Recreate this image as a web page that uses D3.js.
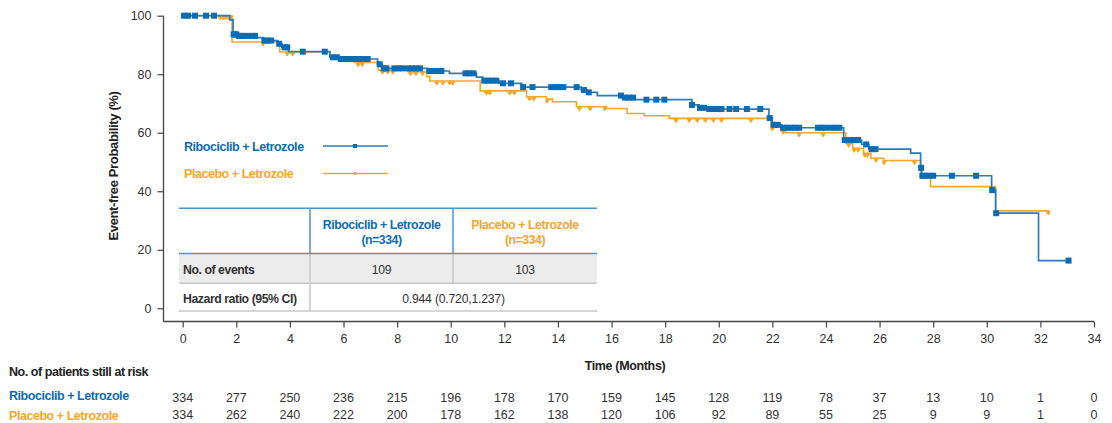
<!DOCTYPE html>
<html>
<head>
<meta charset="utf-8">
<script src="https://cdn.jsdelivr.net/npm/d3@7"></script>
<style>
  html, body { margin: 0; padding: 0; background: #fff; }
  svg { display: block; font-family: "Liberation Sans", Arial, Helvetica, sans-serif; }
</style>
</head>
<body>
<svg id="chart" width="1112" height="423"></svg>
<script>
// Kaplan-Meier step data: times in months, event-free probability in %
const ribTime = [0, 1.76, 1.88, 2.05, 2.78, 3.0, 3.55, 3.7, 3.95, 5.49, 5.86, 7.27, 7.45, 9.14, 9.95, 10.96, 11.2, 11.8, 12.65, 14.87, 15.09, 15.47, 16.4, 16.88, 19.0, 19.27, 19.53, 21.87, 22.0, 22.35, 24.66, 25.33, 25.6, 27.16, 27.53, 27.57, 30.18, 30.33, 31.93];
const ribSurv = [100, 98.6, 93.6, 93.1, 92.5, 91.5, 90.4, 89.2, 87.7, 85.8, 85.2, 83.4, 82.0, 81.1, 80.3, 79.0, 77.8, 76.9, 75.6, 74.6, 73.8, 72.7, 72.0, 71.3, 69.5, 68.5, 68.1, 65.0, 62.7, 61.7, 57.5, 56.0, 54.4, 53.0, 48.0, 45.3, 40.4, 32.5, 16.3];
const ribEnd = 33.05;
const ribCensor = [0.05, 0.2, 0.46, 0.87, 1.17, 1.9, 1.95, 2.0, 2.1, 2.2, 2.3, 2.45, 2.6, 2.7, 3.05, 3.15, 3.3, 3.6, 3.8, 3.9, 4.48, 5.3, 5.6, 5.75, 5.9, 6.05, 6.2, 6.35, 6.5, 6.7, 6.9, 7.35, 7.5, 7.6, 7.9, 8.05, 8.2, 8.4, 8.55, 8.7, 8.85, 9.2, 9.35, 9.5, 9.65, 10.55, 10.7, 10.85, 11.25, 11.4, 11.55, 11.7, 11.95, 12.25, 12.7, 13.05, 13.75, 13.9, 14.05, 14.2, 14.7, 14.97, 15.15, 16.35, 16.5, 16.65, 16.8, 17.3, 17.67, 17.97, 19.0, 19.3, 19.45, 19.65, 19.8, 19.95, 20.1, 20.4, 20.65, 21.05, 21.55, 21.9, 22.05, 22.2, 22.4, 22.55, 22.7, 22.85, 23.0, 23.7, 23.85, 24.0, 24.2, 24.35, 24.5, 24.7, 24.9, 25.05, 25.2, 25.5, 25.7, 25.85, 27.55, 27.6, 27.7, 27.85, 28.0, 28.7, 29.6, 30.2, 30.35, 33.05];

const plaTime = [0, 1.84, 3.62, 5.49, 6.4, 7.3, 8.4, 9.1, 9.22, 11.1, 12.83, 13.57, 13.8, 14.69, 15.8, 16.58, 17.22, 18.15, 21.95, 22.33, 22.5, 24.74, 25.0, 25.4, 25.68, 26.15, 27.53, 27.9, 30.33];
const plaSurv = [100, 91.0, 87.6, 85.8, 84.0, 81.4, 80.9, 79.2, 77.7, 74.3, 72.3, 71.5, 70.6, 68.9, 68.3, 66.6, 65.8, 64.9, 62.0, 60.9, 60.0, 56.4, 54.7, 53.0, 51.3, 50.5, 45.6, 41.6, 33.3];
const plaEnd = 32.3;
const plaCensor = [1.4, 1.5, 1.6, 1.7, 1.8, 3.0, 3.9, 4.1, 6.55, 6.7, 7.46, 7.65, 7.84, 8.5, 8.7, 8.95, 9.48, 9.7, 9.96, 10.07, 11.33, 11.45, 12.2, 12.38, 12.94, 13.1, 13.6, 14.8, 15.2, 15.75, 18.4, 18.9, 19.2, 19.5, 19.8, 20.1, 21.2, 22.0, 22.4, 23.0, 23.9, 24.85, 25.05, 25.2, 25.45, 25.55, 25.87, 26.17, 27.3, 27.55, 32.3];

// Axis ticks
const xTicks = d3.range(0, 35, 2);
const yTicks = [0, 20, 40, 60, 80, 100];

// Patients at risk at each x tick
const ribRisk = [334, 277, 250, 236, 215, 196, 178, 170, 159, 145, 128, 119, 78, 37, 13, 10, 1, 0];
const plaRisk = [334, 262, 240, 222, 200, 178, 162, 138, 120, 106, 92, 89, 55, 25, 9, 9, 1, 0];

// Summary table
const armNames = ["Ribociclib + Letrozole", "Placebo + Letrozole"];
const armN = ["(n=334)", "(n=334)"];
const eventCounts = ["109", "103"];
const hazardText = "0.944 (0.720,1.237)";

const BLUE = "#0c6cb5";
const BLUE_LINE = "#2a7cc0";
const ORANGE = "#f5a62b";
const DARK = "#222";
const BOLD_SIZE = 12.5;

const svg = d3.select("#chart");
svg.append("rect").attr("width", 1112).attr("height", 423).attr("fill", "#fff");

const x = d3.scaleLinear().domain([0, 34]).range([182.7, 1094]);
const y = d3.scaleLinear().domain([0, 100]).range([308.3, 15.7]);
const axisY = 321.5;   // vertical position of the time axis
const axisX = 163.5;   // horizontal position of the probability axis

// ---- Axes ----
const gy = svg.append("g").attr("transform", `translate(${axisX},0)`)
  .call(d3.axisLeft(y).tickValues(yTicks).tickSize(6).tickPadding(6).tickSizeOuter(0));
gy.select(".domain").remove();
gy.selectAll(".tick line").attr("stroke", "#444").attr("stroke-width", 1.2);
gy.selectAll(".tick text").attr("font-size", 12.5).attr("fill", "#333")
  .attr("font-family", "Liberation Sans, Arial, sans-serif");

const gx = svg.append("g").attr("transform", `translate(0,${axisY})`)
  .call(d3.axisBottom(x).tickValues(xTicks).tickSize(6).tickPadding(7).tickSizeOuter(0));
gx.select(".domain").remove();
gx.selectAll(".tick line").attr("stroke", "#444").attr("stroke-width", 1.2);
gx.selectAll(".tick text").attr("font-size", 12.5).attr("fill", "#333")
  .attr("font-family", "Liberation Sans, Arial, sans-serif");

svg.append("line").attr("x1", axisX).attr("x2", axisX).attr("y1", y(100)).attr("y2", axisY)
  .attr("stroke", "#444").attr("stroke-width", 1.3);
svg.append("line").attr("x1", axisX).attr("x2", x(34)).attr("y1", axisY).attr("y2", axisY)
  .attr("stroke", "#444").attr("stroke-width", 1.3);

svg.append("text")
  .attr("transform", `translate(118,${(y(100) + y(0)) / 2 + 4}) rotate(-90)`)
  .attr("text-anchor", "middle").attr("font-size", 13).attr("font-weight", "bold")
  .attr("letter-spacing", -0.35).attr("fill", DARK)
  .text("Event-free Probability (%)");

svg.append("text").attr("x", 625).attr("y", 370).attr("text-anchor", "middle")
  .attr("font-size", BOLD_SIZE).attr("font-weight", "bold").attr("letter-spacing", -0.35)
  .attr("fill", DARK).text("Time (Months)");

// ---- Curves ----
function stepPoints(times, surv, end) {
  const pts = times.map((t, i) => [t, surv[i]]);
  pts.push([end, surv[surv.length - 1]]);
  return pts;
}
function survAt(times, surv, t) {
  let s = surv[0];
  for (let i = 0; i < times.length; i++) { if (times[i] <= t) s = surv[i]; }
  return s;
}
const stepLine = d3.line().x(d => x(d[0])).y(d => y(d[1])).curve(d3.curveStepAfter);

const plotG = svg.append("g");

plotG.append("path").datum(stepPoints(plaTime, plaSurv, plaEnd))
  .attr("d", stepLine).attr("fill", "none").attr("stroke", ORANGE).attr("stroke-width", 1.6);

plotG.selectAll(".pcens").data(plaCensor).join("path")
  .attr("class", "pcens")
  .attr("transform", d => `translate(${x(d)},${y(survAt(plaTime, plaSurv, d))})`)
  .attr("d", "M-2,1 L2,1 L0,4 Z M0,-1 L0,4")
  .attr("fill", ORANGE).attr("stroke", ORANGE).attr("stroke-width", 1);

plotG.append("path").datum(stepPoints(ribTime, ribSurv, ribEnd))
  .attr("d", stepLine).attr("fill", "none").attr("stroke", BLUE_LINE).attr("stroke-width", 1.7);

plotG.selectAll(".rcens").data(ribCensor).join("rect")
  .attr("class", "rcens")
  .attr("x", d => x(d) - 3)
  .attr("y", d => y(survAt(ribTime, ribSurv, d)) - 3)
  .attr("width", 6).attr("height", 6).attr("fill", BLUE);

// ---- Legend ----
const legend = [
  { name: armNames[0], color: BLUE, line: BLUE_LINE, yPos: 146, marker: "square" },
  { name: armNames[1], color: ORANGE, line: ORANGE, yPos: 173.5, marker: "dot" }
];
legend.forEach(l => {
  svg.append("text").attr("x", 184).attr("y", l.yPos + 4.5).attr("font-size", BOLD_SIZE)
    .attr("font-weight", "bold").attr("letter-spacing", -0.45).attr("fill", l.color).text(l.name);
  svg.append("line").attr("x1", 323).attr("x2", 388).attr("y1", l.yPos).attr("y2", l.yPos)
    .attr("stroke", l.line).attr("stroke-width", 1.3);
  if (l.marker === "square") {
    svg.append("rect").attr("x", 353).attr("y", l.yPos - 2).attr("width", 4).attr("height", 4).attr("fill", l.color);
  } else {
    svg.append("circle").attr("cx", 355).attr("cy", l.yPos).attr("r", 1.6).attr("fill", l.color);
  }
});

// ---- Summary table ----
const tbl = { left: 179, right: 597, c1: 310, c2: 453, top: 208.3, head: 253.5, row1: 283.3, bottom: 311 };
const col1Mid = (tbl.c1 + tbl.c2) / 2;
const col2Mid = (tbl.c2 + tbl.right) / 2;

svg.append("rect").attr("x", tbl.left).attr("y", tbl.head).attr("width", tbl.right - tbl.left)
  .attr("height", tbl.row1 - tbl.head).attr("fill", "#ececec");

const hline = (yy, color) => svg.append("line").attr("x1", tbl.left).attr("x2", tbl.right)
  .attr("y1", yy).attr("y2", yy).attr("stroke", color).attr("stroke-width", 1.5);
const vline = (xx, y1, y2, color) => svg.append("line").attr("x1", xx).attr("x2", xx)
  .attr("y1", y1).attr("y2", y2).attr("stroke", color).attr("stroke-width", 1.5);

vline(tbl.c1, tbl.top, tbl.head, "#4f93cc");
vline(tbl.c2, tbl.top, tbl.head, "#4f93cc");
vline(tbl.c1, tbl.head, tbl.bottom, "#c8c8c8");
vline(tbl.c2, tbl.head, tbl.row1, "#c8c8c8");
hline(tbl.top, "#4f93cc");
hline(tbl.head, "#4f93cc");
hline(tbl.row1, "#c8c8c8");
hline(tbl.bottom, "#c8c8c8");

const cellText = (xx, yy, txt, color, anchor, bold) => svg.append("text")
  .attr("x", xx).attr("y", yy).attr("text-anchor", anchor || "middle")
  .attr("font-size", bold ? 12.3 : 12.2).attr("font-weight", bold ? "bold" : "normal")
  .attr("letter-spacing", bold ? -0.45 : -0.2).attr("fill", color).text(txt);

cellText(col1Mid, 228.5, armNames[0], BLUE, "middle", true);
cellText(col1Mid, 243.5, armN[0], BLUE, "middle", true);
cellText(col2Mid, 228.5, armNames[1], ORANGE, "middle", true);
cellText(col2Mid, 243.5, armN[1], ORANGE, "middle", true);

cellText(183, 273.5, "No. of events", "#333", "start", true);
cellText(col1Mid, 273.5, eventCounts[0], "#333", "middle", false);
cellText(col2Mid, 273.5, eventCounts[1], "#333", "middle", false);

cellText(183, 302.5, "Hazard ratio (95% CI)", "#333", "start", true);
cellText((tbl.c1 + tbl.right) / 2, 302.5, hazardText, "#333", "middle", false);

// ---- Patients at risk ----
svg.append("text").attr("x", 9).attr("y", 375.5).attr("font-size", BOLD_SIZE).attr("font-weight", "bold")
  .attr("letter-spacing", -0.45).attr("fill", DARK).text("No. of patients still at risk");
svg.append("text").attr("x", 9).attr("y", 400).attr("font-size", BOLD_SIZE).attr("font-weight", "bold")
  .attr("letter-spacing", -0.45).attr("fill", BLUE).text(armNames[0]);
svg.append("text").attr("x", 9).attr("y", 420).attr("font-size", BOLD_SIZE).attr("font-weight", "bold")
  .attr("letter-spacing", -0.45).attr("fill", ORANGE).text(armNames[1]);

svg.selectAll(".riskR").data(ribRisk).join("text").attr("class", "riskR")
  .attr("x", (d, i) => x(xTicks[i])).attr("y", 402).attr("text-anchor", "middle")
  .attr("font-size", 12.5).attr("fill", "#333").text(d => d);
svg.selectAll(".riskP").data(plaRisk).join("text").attr("class", "riskP")
  .attr("x", (d, i) => x(xTicks[i])).attr("y", 419).attr("text-anchor", "middle")
  .attr("font-size", 12.5).attr("fill", "#333").text(d => d);
</script>
</body>
</html>
